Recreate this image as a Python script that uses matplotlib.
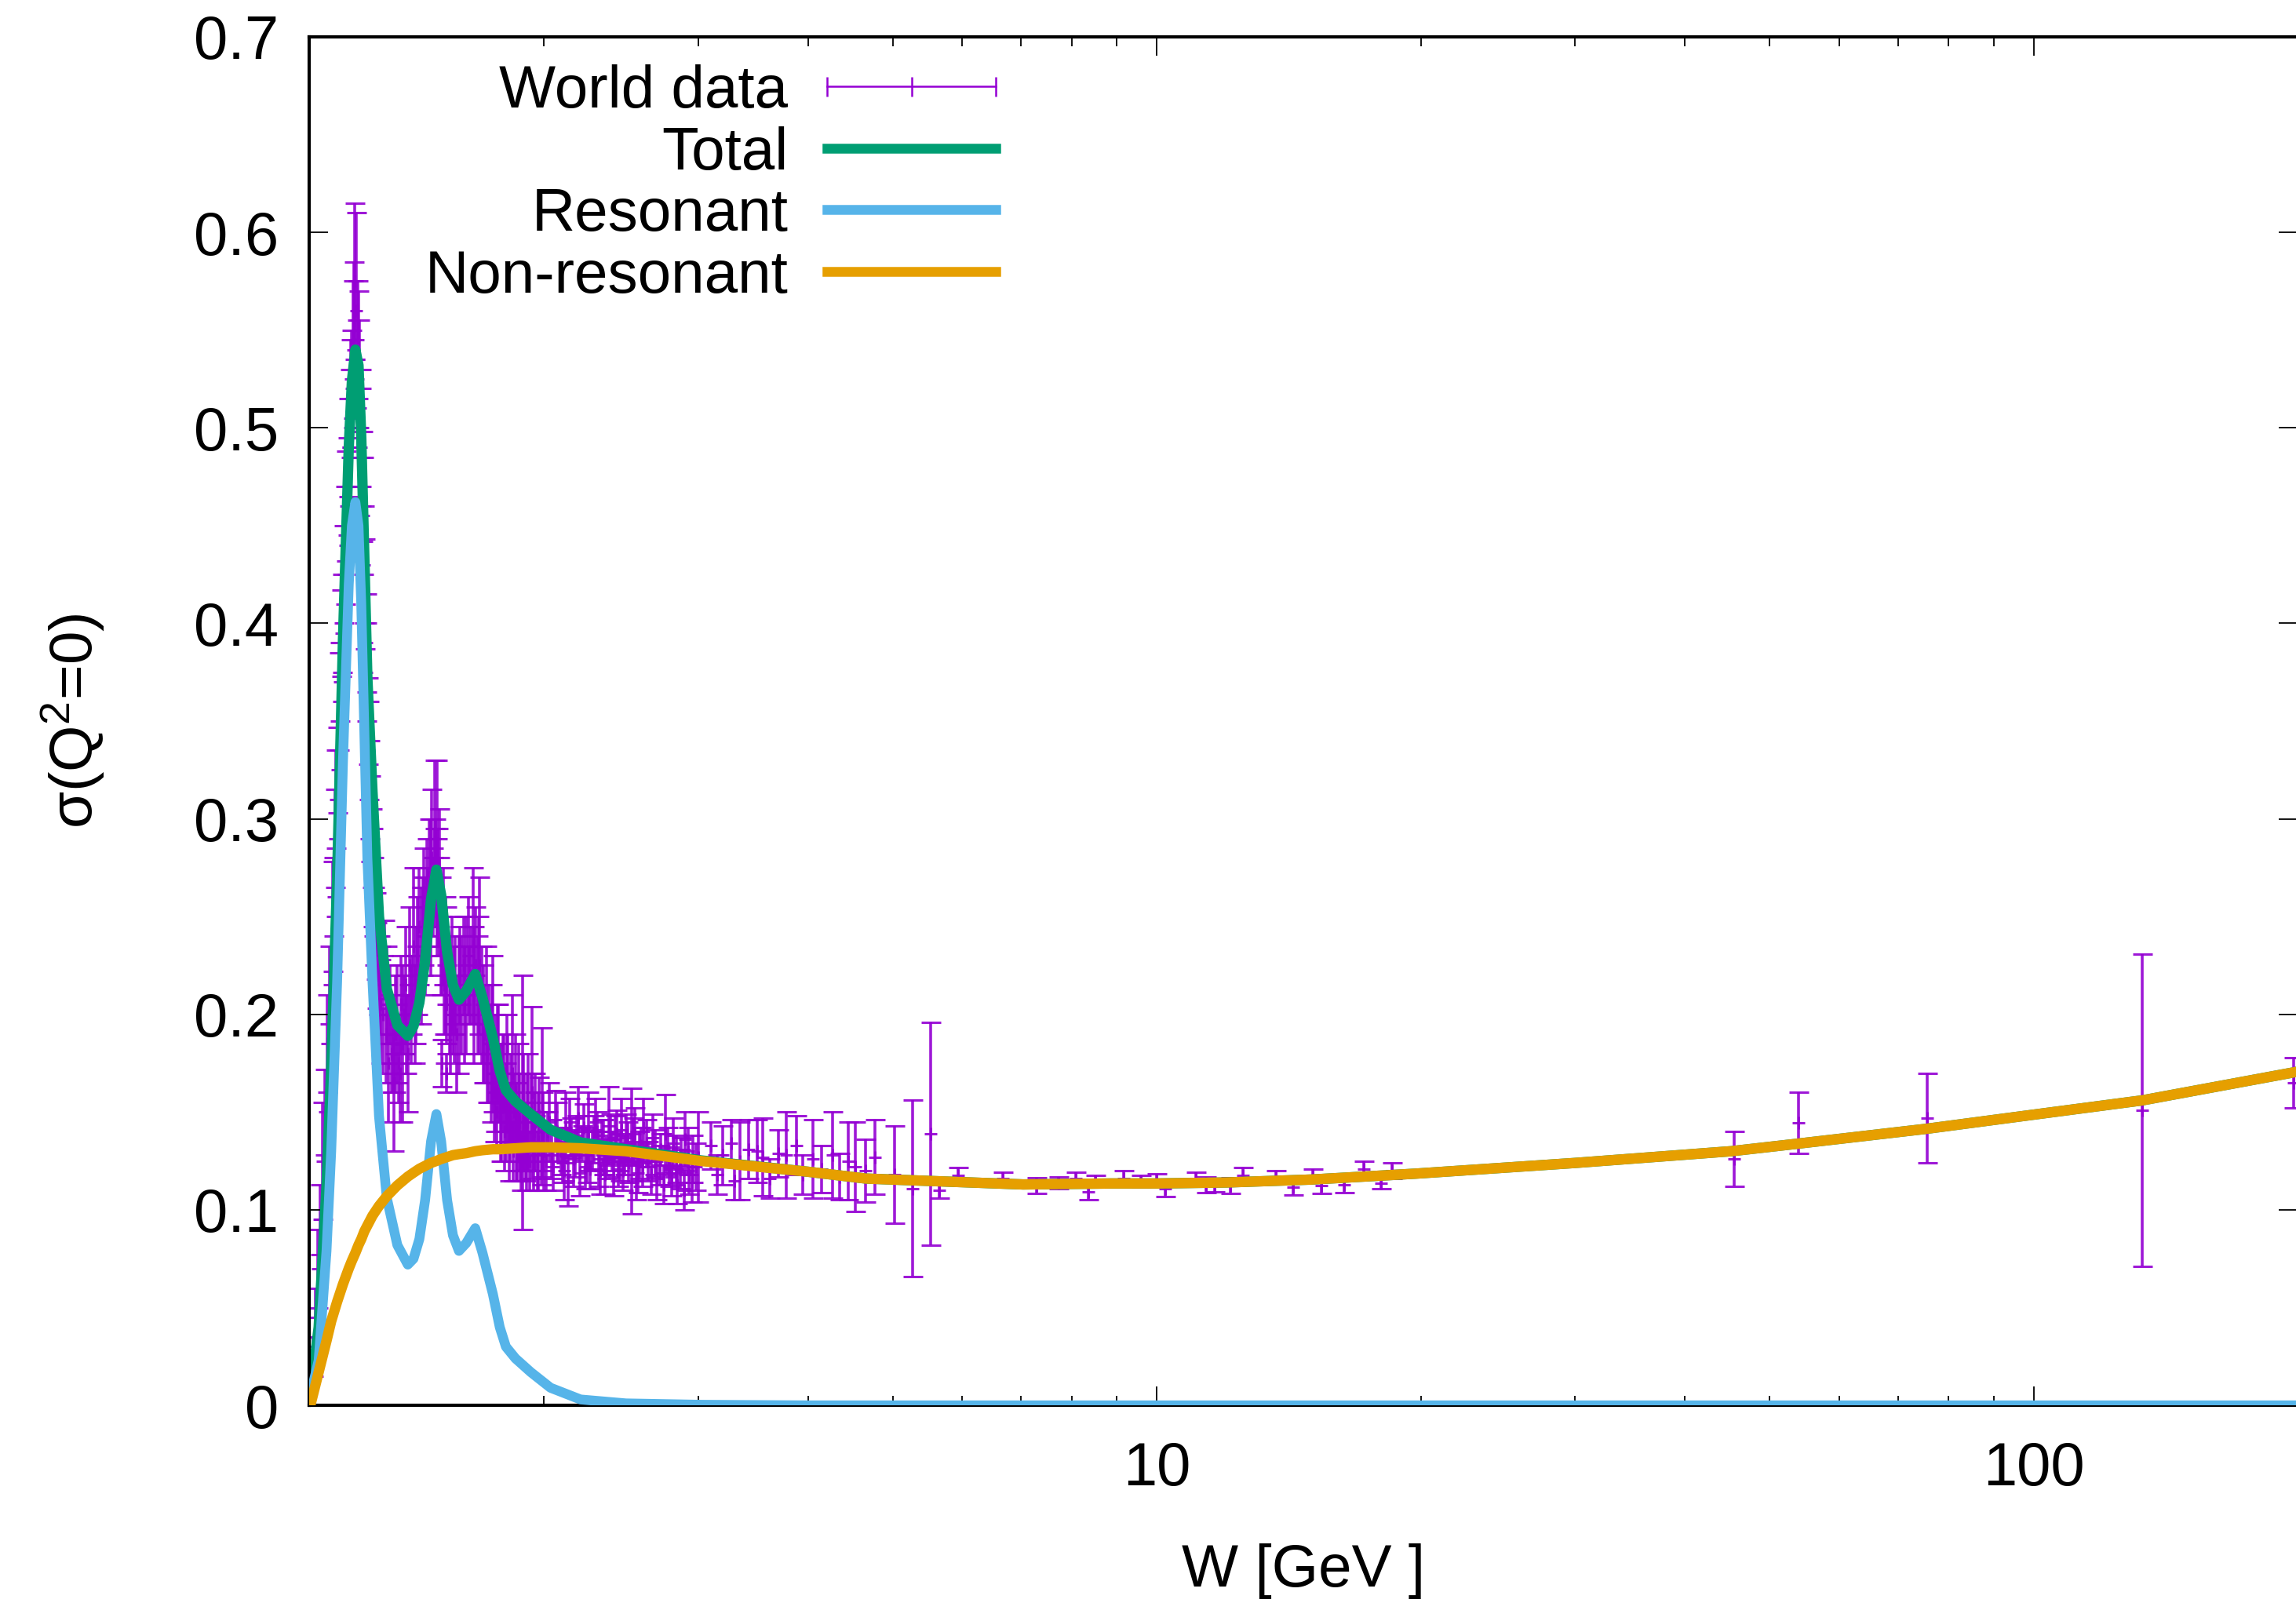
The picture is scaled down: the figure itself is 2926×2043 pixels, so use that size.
import matplotlib
matplotlib.use('Agg')
import matplotlib.pyplot as plt
from matplotlib.lines import Line2D
from matplotlib.ticker import LogLocator, FuncFormatter, NullFormatter, MultipleLocator

plt.rcParams['font.family'] = ['Liberation Sans', 'DejaVu Sans']
plt.rcParams['mathtext.default'] = 'regular'

# ---- model curves
w_fit = [1.083, 1.107, 1.130, 1.144, 1.162, 1.180, 1.198, 1.208, 1.219, 1.229,
         1.238, 1.248, 1.258, 1.275, 1.297, 1.324, 1.361, 1.399, 1.420, 1.442,
         1.464, 1.487, 1.508, 1.527, 1.551, 1.575, 1.600, 1.631, 1.670, 1.702,
         1.749, 1.781, 1.81, 1.856, 1.932, 2.035, 2.202, 2.481, 3.02, 4.0, 4.66,
         7.04, 8.87, 10.0, 12.0, 15.0, 19.7, 30.0, 45.2, 53.7, 75.6,
         100.0, 133.0, 200.0]
resonant = [0.005, 0.023, 0.079, 0.130, 0.217, 0.330, 0.420, 0.450, 0.462, 0.450,
            0.410, 0.345, 0.280, 0.217, 0.148, 0.106, 0.082, 0.072, 0.075, 0.085,
            0.105, 0.135, 0.149, 0.135, 0.105, 0.087, 0.079, 0.083, 0.0906, 0.078,
            0.057, 0.040, 0.030, 0.024, 0.017, 0.009, 0.003, 0.001, 0.0003, 0.0, 0.0,
            0.0, 0.0, 0.0, 0.0, 0.0, 0.0, 0.0, 0.0, 0.0, 0.0,
            0.0, 0.0, 0.0]
nonresonant = [0.000, 0.017, 0.033, 0.043, 0.053, 0.062, 0.070, 0.074, 0.078, 0.082,
               0.085, 0.089, 0.092, 0.097, 0.102, 0.107, 0.1125, 0.117, 0.119, 0.121,
               0.1225, 0.124, 0.125, 0.126, 0.127, 0.128, 0.1285, 0.129, 0.130, 0.1305,
               0.131, 0.131, 0.1312, 0.1315, 0.132, 0.132, 0.1315, 0.130, 0.125, 0.1195, 0.116,
               0.113, 0.1135, 0.1135, 0.114, 0.1155, 0.1185, 0.124, 0.130, 0.1338, 0.1415,
               0.1487, 0.156, 0.1707]
total = [0.005, 0.040, 0.112, 0.173, 0.270, 0.392, 0.490, 0.524, 0.540, 0.532,
         0.495, 0.434, 0.372, 0.314, 0.250, 0.213, 0.1945, 0.189, 0.194, 0.206,
         0.2275, 0.259, 0.274, 0.261, 0.232, 0.215, 0.2075, 0.212, 0.2206, 0.2085,
         0.188, 0.171, 0.1612, 0.1555, 0.149, 0.141, 0.1345, 0.131, 0.1253, 0.1195, 0.116,
         0.113, 0.1135, 0.1135, 0.114, 0.1155, 0.1185, 0.124, 0.130, 0.1338, 0.1415,
         0.1487, 0.156, 0.1707]

# ---- world data: W, sigma, error
w_data = [
    # Delta(1232) region
    1.090, 1.098, 1.105, 1.112, 1.118, 1.125, 1.132, 1.140, 1.148, 1.155,
    1.162, 1.168, 1.175, 1.182, 1.190, 1.198, 1.205, 1.212, 1.218, 1.222,
    1.226, 1.232, 1.238, 1.244, 1.250, 1.256, 1.262, 1.268, 1.275, 1.282, 1.290,
    1.150, 1.158, 1.170, 1.178, 1.186, 1.194, 1.202, 1.208, 1.215, 1.230,
    1.236, 1.242, 1.248, 1.254, 1.260, 1.266, 1.272, 1.278, 1.286, 1.295,
    # dip, second and third resonance region
    1.30, 1.31, 1.315, 1.32, 1.33, 1.335, 1.345, 1.35, 1.36, 1.365,
    1.375, 1.38, 1.39, 1.395, 1.405, 1.41, 1.42, 1.43, 1.44, 1.45,
    1.46, 1.47, 1.48, 1.49, 1.495, 1.50, 1.505, 1.51, 1.515, 1.52,
    1.525, 1.53, 1.54, 1.545, 1.55, 1.56, 1.565, 1.57, 1.575, 1.585,
    1.59, 1.60, 1.53, 1.55,
    1.61, 1.62, 1.63, 1.64, 1.65, 1.66, 1.67, 1.68, 1.69, 1.70,
    1.71, 1.72, 1.73, 1.74, 1.75,
    1.302, 1.325, 1.34, 1.355, 1.37, 1.385, 1.40, 1.415, 1.425, 1.435,
    1.455, 1.465, 1.475, 1.485, 1.50, 1.51, 1.52, 1.535, 1.55, 1.58,
    1.605, 1.625, 1.645, 1.665, 1.685, 1.705, 1.725, 1.745,
    # falling edge and dense block
    1.76, 1.77, 1.78, 1.79, 1.80, 1.81, 1.82, 1.83, 1.84, 1.85,
    1.86, 1.87, 1.88, 1.89, 1.90, 1.91, 1.92, 1.94, 1.95, 1.97,
    1.99, 2.00,
    1.755, 1.765, 1.775, 1.785, 1.795, 1.805, 1.815, 1.825, 1.835, 1.845,
    1.855, 1.865, 1.875, 1.885, 1.895, 1.905, 1.915, 1.925, 1.935, 1.945,
    1.955, 1.965, 1.975, 1.985, 1.995,
    2.02, 2.04, 2.06, 2.08, 2.10, 2.12, 2.13, 2.15, 2.17, 2.19,
    2.21, 2.23, 2.25, 2.27, 2.29, 2.31, 2.33, 2.35, 2.37, 2.39,
    2.41, 2.43, 2.45, 2.47, 2.49, 2.52, 2.54, 2.56, 2.58, 2.60,
    2.63, 2.66, 2.69, 2.72, 2.75, 2.78, 2.81, 2.84, 2.87, 2.90,
    2.93, 2.96, 3.00,
    2.01, 2.03, 2.05, 2.07, 2.09, 2.11, 2.14, 2.16, 2.18, 2.20,
    2.22, 2.24, 2.26, 2.28, 2.30, 2.32, 2.34, 2.36, 2.38, 2.40,
    2.42, 2.44, 2.46, 2.48, 2.50, 2.53, 2.55, 2.57, 2.59, 2.62,
    2.65, 2.68, 2.71, 2.74, 2.77, 2.80, 2.83, 2.86, 2.89, 2.92,
    2.95, 2.98,
    # 3 - 6 GeV
    3.10, 3.15, 3.20, 3.27, 3.30, 3.35, 3.42, 3.50, 3.55, 3.62,
    3.70, 3.78, 3.88, 3.95, 4.05, 4.15, 4.27, 4.35, 4.45, 4.53,
    4.65, 4.77, 5.02, 5.27, 5.52, 5.65,
    # precise points 6 - 19 GeV
    5.94, 6.67, 7.29, 7.72, 8.09, 8.36, 8.51, 9.16, 9.59, 10.0,
    10.23, 11.07, 11.38, 11.64, 12.14, 12.54, 13.68, 14.32, 15.07, 15.42,
    16.37, 17.22, 18.03, 18.54,
    # high energy
    45.5, 53.9, 75.6, 133.0, 198.0]
sig_data = [
    0.025, 0.045, 0.070, 0.095, 0.125, 0.150, 0.185, 0.215, 0.250, 0.290,
    0.325, 0.360, 0.395, 0.425, 0.460, 0.490, 0.515, 0.540, 0.575, 0.560,
    0.545, 0.520, 0.490, 0.455, 0.415, 0.375, 0.335, 0.300, 0.270, 0.245, 0.225,
    0.260, 0.310, 0.370, 0.400, 0.440, 0.470, 0.500, 0.520, 0.555, 0.535,
    0.500, 0.470, 0.430, 0.390, 0.350, 0.315, 0.285, 0.260, 0.240, 0.220,
    0.215, 0.200, 0.228, 0.190, 0.175, 0.205, 0.185, 0.165, 0.195, 0.175,
    0.205, 0.185, 0.215, 0.190, 0.225, 0.200, 0.235, 0.215, 0.245, 0.230,
    0.255, 0.265, 0.270, 0.280, 0.260, 0.290, 0.275, 0.285, 0.265, 0.255,
    0.240, 0.230, 0.215, 0.225, 0.205, 0.210, 0.195, 0.220, 0.200, 0.215,
    0.190, 0.205, 0.175, 0.170,
    0.210, 0.225, 0.215, 0.230, 0.220, 0.235, 0.225, 0.210, 0.225, 0.205,
    0.190, 0.200, 0.185, 0.175, 0.190,
    0.205, 0.210, 0.180, 0.190, 0.170, 0.200, 0.180, 0.210, 0.200, 0.230,
    0.245, 0.240, 0.255, 0.260, 0.270, 0.260, 0.270, 0.245, 0.230, 0.205,
    0.220, 0.205, 0.215, 0.210, 0.220, 0.195, 0.180, 0.185,
    0.170, 0.180, 0.165, 0.155, 0.170, 0.150, 0.160, 0.145, 0.170, 0.150,
    0.140, 0.155, 0.135, 0.155, 0.145, 0.130, 0.150, 0.160, 0.140, 0.135,
    0.155, 0.130,
    0.160, 0.150, 0.175, 0.145, 0.165, 0.140, 0.170, 0.135, 0.155, 0.130,
    0.160, 0.135, 0.145, 0.125, 0.150, 0.135, 0.145, 0.125, 0.150, 0.130,
    0.145, 0.125, 0.148, 0.128, 0.140,
    0.140, 0.128, 0.146, 0.133, 0.124, 0.142, 0.115, 0.137, 0.129, 0.147,
    0.134, 0.122, 0.140, 0.131, 0.145, 0.126, 0.138, 0.118, 0.143, 0.130,
    0.136, 0.121, 0.141, 0.128, 0.134, 0.130, 0.139, 0.119, 0.133, 0.142,
    0.125, 0.137, 0.116, 0.131, 0.139, 0.122, 0.134, 0.113, 0.128, 0.136,
    0.118, 0.126, 0.127,
    0.125, 0.145, 0.122, 0.140, 0.130, 0.120, 0.145, 0.126, 0.138, 0.119,
    0.142, 0.128, 0.121, 0.136, 0.140, 0.120, 0.132, 0.126, 0.137, 0.117,
    0.139, 0.127, 0.120, 0.137, 0.124, 0.135, 0.115, 0.128, 0.122, 0.134,
    0.118, 0.129, 0.123, 0.113, 0.130, 0.117, 0.126, 0.121, 0.110, 0.130,
    0.114, 0.122,
    0.133, 0.118, 0.128, 0.134, 0.115, 0.125, 0.131, 0.130, 0.127, 0.116,
    0.129, 0.128, 0.133, 0.118, 0.126, 0.121, 0.128, 0.117, 0.125, 0.122,
    0.120, 0.127, 0.118, 0.111, 0.139, 0.110,
    0.1177, 0.1162, 0.1123, 0.1138, 0.1162, 0.1092, 0.1146, 0.1162, 0.1146, 0.1153,
    0.1108, 0.1162, 0.1130, 0.1123, 0.1123, 0.1177, 0.1169, 0.1115, 0.1177, 0.1123,
    0.1130, 0.1207, 0.1138, 0.1200,
    0.126, 0.1445, 0.147, 0.151, 0.165]
err_data = [
    0.010, 0.015, 0.020, 0.018, 0.030, 0.022, 0.025, 0.020, 0.028, 0.025,
    0.022, 0.025, 0.022, 0.025, 0.028, 0.025, 0.030, 0.035, 0.040, 0.050,
    0.030, 0.035, 0.030, 0.030, 0.028, 0.025, 0.025, 0.022, 0.025, 0.020, 0.022,
    0.020, 0.025, 0.020, 0.025, 0.030, 0.025, 0.030, 0.030, 0.030, 0.035,
    0.030, 0.028, 0.030, 0.025, 0.022, 0.025, 0.020, 0.020, 0.022, 0.020,
    0.025, 0.030, 0.020, 0.025, 0.030, 0.020, 0.025, 0.035, 0.030, 0.020,
    0.025, 0.040, 0.030, 0.020, 0.030, 0.025, 0.040, 0.030, 0.030, 0.035,
    0.030, 0.025, 0.030, 0.035, 0.020, 0.040, 0.025, 0.045, 0.030, 0.025,
    0.030, 0.020, 0.025, 0.035, 0.020, 0.030, 0.025, 0.030, 0.020, 0.025,
    0.030, 0.035, 0.012, 0.010,
    0.030, 0.025, 0.035, 0.030, 0.025, 0.040, 0.030, 0.030, 0.045, 0.030,
    0.025, 0.035, 0.030, 0.030, 0.040,
    0.030, 0.025, 0.020, 0.030, 0.025, 0.020, 0.030, 0.020, 0.025, 0.030,
    0.025, 0.030, 0.020, 0.040, 0.025, 0.030, 0.035, 0.030, 0.025, 0.030,
    0.025, 0.030, 0.020, 0.035, 0.030, 0.030, 0.025, 0.030,
    0.030, 0.025, 0.020, 0.030, 0.020, 0.025, 0.030, 0.020, 0.040, 0.020,
    0.025, 0.030, 0.020, 0.065, 0.025, 0.020, 0.030, 0.044, 0.020, 0.025,
    0.038, 0.020,
    0.025, 0.020, 0.030, 0.020, 0.025, 0.020, 0.030, 0.020, 0.025, 0.015,
    0.030, 0.020, 0.025, 0.015, 0.030, 0.020, 0.025, 0.015, 0.020, 0.020,
    0.025, 0.015, 0.020, 0.015, 0.020,
    0.010, 0.012, 0.015, 0.008, 0.010, 0.018, 0.013, 0.010, 0.012, 0.016,
    0.009, 0.011, 0.020, 0.010, 0.012, 0.014, 0.008, 0.010, 0.020, 0.010,
    0.012, 0.009, 0.016, 0.010, 0.011, 0.032, 0.013, 0.010, 0.009, 0.015,
    0.010, 0.012, 0.011, 0.008, 0.020, 0.010, 0.013, 0.010, 0.009, 0.014,
    0.010, 0.012, 0.023,
    0.015, 0.020, 0.012, 0.015, 0.012, 0.015, 0.012, 0.014, 0.010, 0.012,
    0.012, 0.014, 0.010, 0.012, 0.010, 0.012, 0.014, 0.010, 0.012, 0.010,
    0.012, 0.012, 0.010, 0.012, 0.010, 0.012, 0.010, 0.012, 0.010, 0.012,
    0.010, 0.012, 0.010, 0.010, 0.012, 0.010, 0.012, 0.010, 0.010, 0.012,
    0.010, 0.012,
    0.012, 0.010, 0.015, 0.012, 0.010, 0.020, 0.015, 0.016, 0.020, 0.010,
    0.012, 0.022, 0.015, 0.010, 0.020, 0.012, 0.022, 0.012, 0.020, 0.023,
    0.016, 0.019, 0.025, 0.045, 0.057, 0.004,
    0.004, 0.003, 0.004, 0.003, 0.003, 0.004, 0.003, 0.004, 0.003, 0.003,
    0.004, 0.003, 0.004, 0.003, 0.004, 0.004, 0.003, 0.004, 0.003, 0.004,
    0.004, 0.004, 0.003, 0.004,
    0.014, 0.0155, 0.023, 0.080, 0.013]

c_data = '#9400d3'
c_tot = '#009e73'
c_res = '#56b4e9'
c_non = '#e69f00'

fig = plt.figure(figsize=(29.26, 20.43), dpi=100)
ax = fig.add_axes([0.1347, 0.1233, 0.8660, 0.8537])

ax.errorbar(w_data, sig_data, yerr=err_data, fmt='+', color=c_data, ms=12, mew=2.2,
            ecolor=c_data, elinewidth=2.6, capsize=9, capthick=2.2, alpha=0.9, zorder=1)
ax.plot(w_fit, total, color=c_tot, lw=9.5, zorder=2, solid_joinstyle='round')
ax.plot(w_fit, resonant, color=c_res, lw=9, zorder=3, solid_joinstyle='round')
ax.plot(w_fit, nonresonant, color=c_non, lw=9.5, zorder=4, solid_joinstyle='round')

ax.set_xscale('log')
ax.set_xlim(1.08, 200)
ax.set_ylim(0, 0.7)
ax.xaxis.set_major_locator(LogLocator(base=10))
ax.xaxis.set_minor_locator(LogLocator(base=10, subs=range(2, 10)))
ax.xaxis.set_major_formatter(FuncFormatter(lambda v, p: '%g' % v))
ax.xaxis.set_minor_formatter(NullFormatter())
ax.yaxis.set_major_locator(MultipleLocator(0.1))
ax.yaxis.set_major_formatter(FuncFormatter(lambda v, p: '0' if abs(v) < 1e-9 else '%.1f' % v))

ax.tick_params(which='both', direction='in', top=True, right=True, width=1.3,
               labelsize=56, pad=28)
ax.tick_params(axis='x', pad=32)
ax.tick_params(which='major', length=17)
ax.tick_params(which='minor', length=8.6)
for s in ax.spines.values():
    s.set_linewidth(3)

ax.set_xlabel('W [GeV ]', fontsize=55)
ax.set_ylabel('σ(Q$^{2}$=0)', fontsize=55)
ax.xaxis.set_label_coords(0.5, -0.101)
ax.yaxis.set_label_coords(-0.102, 0.5)

h_data = Line2D([], [], color=c_data, lw=1.8, marker='|', ms=18, mew=1.8)
h_tot = Line2D([], [], color=c_tot, lw=9)
h_res = Line2D([], [], color=c_res, lw=9)
h_non = Line2D([], [], color=c_non, lw=9)
ax.legend([h_data, h_tot, h_res, h_non], ['World data', 'Total', 'Resonant', 'Non-resonant'],
          loc='upper right', bbox_to_anchor=(0.3544, 0.980), frameon=False,
          markerfirst=False, numpoints=3, handlelength=3.42, handletextpad=0.35,
          labelspacing=0.1, borderpad=0, borderaxespad=0, fontsize=55)

fig.savefig('out.png', dpi=100)
